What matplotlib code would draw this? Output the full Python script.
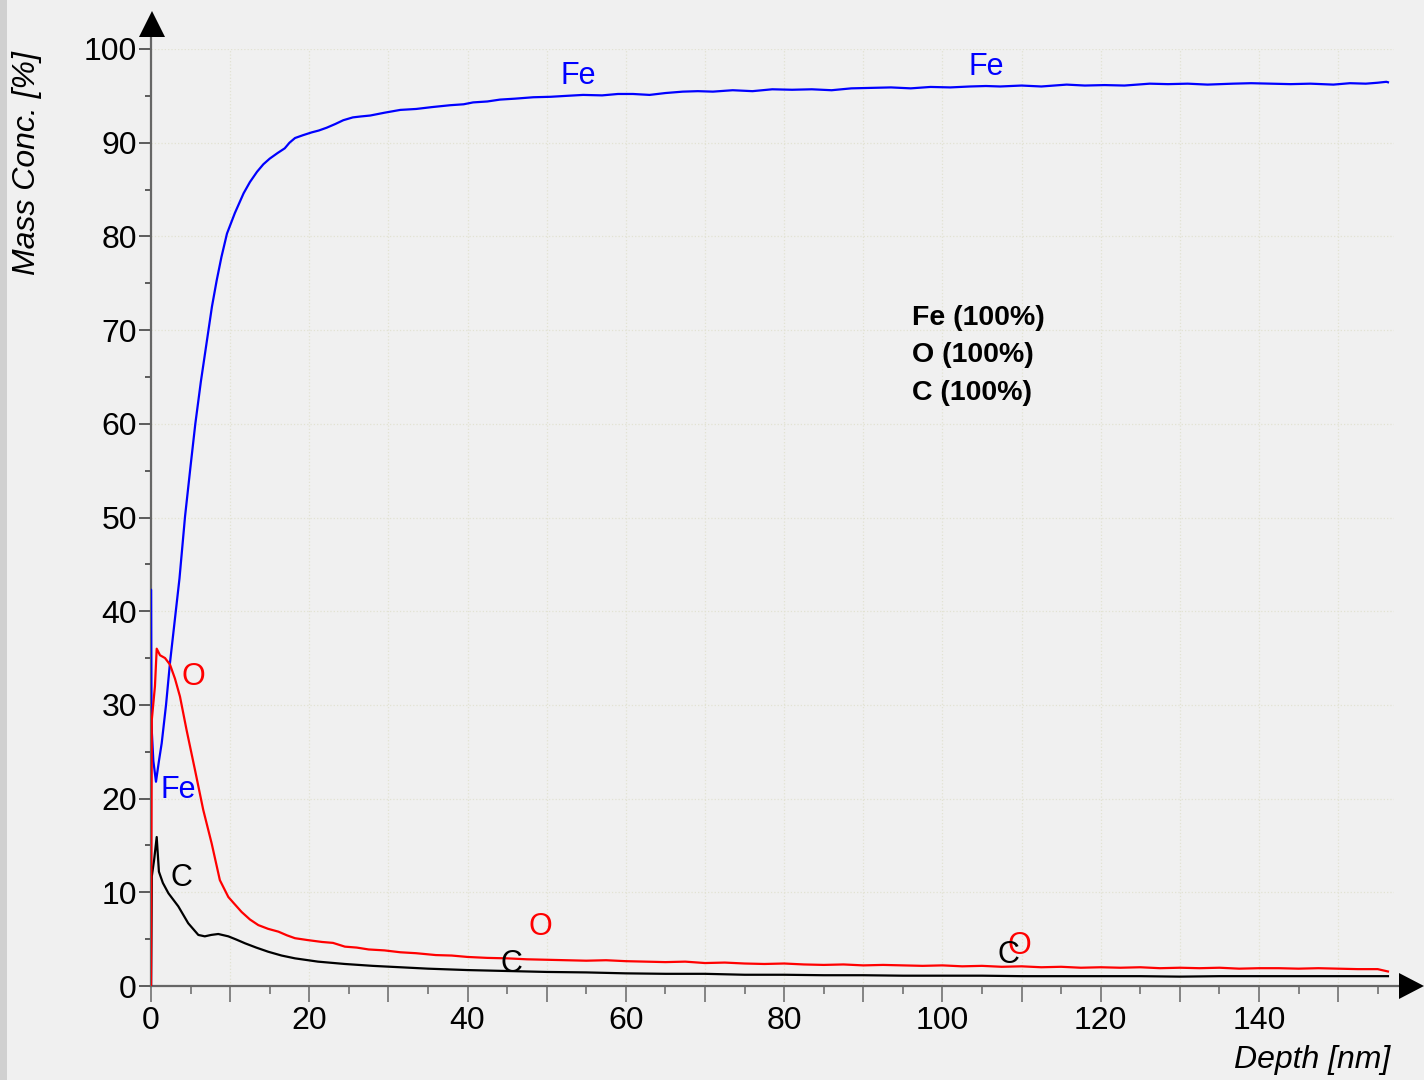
import matplotlib
matplotlib.use("Agg")
import matplotlib.pyplot as plt
from matplotlib.patches import Polygon, Rectangle
from matplotlib.ticker import MultipleLocator

# ------------------------------------------------
# Depth profile data (depth in nm, mass conc. in %)
# ------------------------------------------------
depth_fe = [0, 0, 0.05, 0.3, 0.63, 1.0, 1.35, 1.9, 2.4, 3.0, 3.6, 4.3, 5.0, 5.6, 6.3, 7.0,
            7.7, 8.3, 8.9, 9.6, 10.6, 11.7, 12.5, 13.4, 14.2, 15.0, 16.0, 16.9, 17.5, 18.2,
            19.2, 20.3, 21.2, 22.2, 23.3, 24.3, 25.5, 26.5, 27.7, 29.5, 31.5, 33.5, 35.5,
            37.8, 39.5, 40.7, 42.5, 44.1, 46, 48.3, 50.5, 52.5, 54.6, 57, 59, 60.9, 63, 65,
            67.2, 69.1, 71, 73.5, 76, 78.5, 81, 83.5, 86, 88.5, 91, 93.5, 96, 98.5, 101,
            103.5, 105.5, 107.3, 110, 112.5, 115.7, 118, 120.5, 123, 126.2, 128.5, 131,
            133.5, 136.7, 139, 141.5, 144, 146.5, 149.4, 151.5, 153.5, 155, 156.1, 156.3]
fe = [0, 42.3, 28.0, 24.0, 21.8, 24.0, 25.9, 30.0, 34.5, 39.0, 43.5, 50.1, 55.5, 60.0, 64.5,
      68.5, 72.5, 75.3, 77.8, 80.3, 82.5, 84.6, 85.8, 86.9, 87.7, 88.3, 88.9, 89.4, 90.0,
      90.5, 90.8, 91.1, 91.3, 91.6, 92.0, 92.4, 92.7, 92.8, 92.9, 93.2, 93.5, 93.6, 93.8,
      94.0, 94.1, 94.3, 94.4, 94.6, 94.7, 94.85, 94.9, 95.0, 95.1, 95.05, 95.2, 95.2, 95.1,
      95.3, 95.45, 95.5, 95.45, 95.6, 95.5, 95.7, 95.65, 95.7, 95.6, 95.8, 95.85, 95.9,
      95.8, 95.95, 95.9, 96.0, 96.05, 96.0, 96.1, 96.0, 96.2, 96.1, 96.15, 96.1, 96.3,
      96.25, 96.3, 96.2, 96.3, 96.35, 96.3, 96.25, 96.3, 96.2, 96.35, 96.3, 96.4, 96.5, 96.45]

depth_o = [0, 0.1, 0.5, 0.72, 1.14, 1.77, 2.4, 3.03, 3.66, 4.5, 5.56, 6.6, 7.67, 8.7, 9.77,
           10.5, 11.45, 12.5, 13.56, 14.8, 16.1, 17.2, 18.2, 19.8, 21.6, 23, 24.5, 26, 27.5,
           29.5, 31.5, 33.5, 36, 38, 40, 42.5, 45, 47.5, 50, 52.5, 55, 57.5, 60, 62.5, 65,
           67.5, 70, 72.5, 75, 77.5, 80, 82.5, 85, 87.5, 90, 92.5, 95, 97.5, 100, 102.5, 105,
           107.5, 110, 112.5, 115, 117.5, 120, 122.5, 125, 127.5, 130, 132.5, 135, 137.5, 140,
           142.5, 145, 147.5, 150, 152.5, 155, 156.3]
o = [0, 28.4, 32.0, 36.0, 35.3, 35.0, 34.3, 32.8, 30.9, 27.3, 23.05, 18.8, 15.2, 11.3, 9.5,
     8.8, 7.9, 7.1, 6.5, 6.1, 5.8, 5.4, 5.1, 4.9, 4.7, 4.6, 4.2, 4.1, 3.9, 3.8, 3.6, 3.5, 3.3,
     3.25, 3.1, 3.0, 2.95, 2.85, 2.8, 2.75, 2.7, 2.75, 2.65, 2.6, 2.55, 2.6, 2.45, 2.5, 2.4,
     2.35, 2.4, 2.3, 2.25, 2.3, 2.2, 2.25, 2.2, 2.15, 2.2, 2.1, 2.15, 2.05, 2.1, 2.0, 2.05,
     1.95, 2.0, 1.95, 2.0, 1.9, 1.95, 1.9, 1.95, 1.85, 1.9, 1.9, 1.85, 1.9, 1.85, 1.8, 1.8, 1.55]

depth_c = [0, 0.1, 0.4, 0.72, 1.0, 1.5, 2.2, 3.45, 4.7, 5.98, 6.8, 7.6, 8.5, 9.77, 10.8, 11.9,
           13.3, 14.8, 16.5, 18.2, 21.1, 24.5, 28, 31.5, 35, 40, 45, 50, 55, 60, 65, 70, 75,
           80, 85, 90, 95, 100, 105, 110, 115, 120, 125, 130, 135, 140, 145, 150, 155, 156.3]
c = [0, 11.7, 13.5, 15.9, 12.2, 11.0, 9.9, 8.5, 6.7, 5.45, 5.3, 5.45, 5.55, 5.3, 4.95, 4.55,
     4.1, 3.66, 3.25, 2.95, 2.6, 2.35, 2.15, 2.0, 1.85, 1.7, 1.6, 1.5, 1.45, 1.35, 1.3, 1.3,
     1.2, 1.2, 1.15, 1.15, 1.1, 1.1, 1.1, 1.05, 1.05, 1.05, 1.05, 1.0, 1.05, 1.05, 1.05, 1.05,
     1.05, 1.05]

# curve labels: (text, depth, conc, colour)
curve_labels = [("Fe", 54.0, 97.1, "#0000ff"), ("Fe", 105.5, 98.1, "#0000ff"),
                ("Fe", 3.4, 20.9, "#0000ff"),
                ("O", 5.3, 33.0, "#ff0000"), ("O", 49.2, 6.3, "#ff0000"),
                ("O", 109.7, 4.3, "#ff0000"),
                ("C", 3.9, 11.5, "black"), ("C", 45.6, 2.35, "black"),
                ("C", 108.3, 3.3, "black")]
scale_lines = ["Fe (100%)", "O (100%)", "C (100%)"]

plt.rcParams['font.family'] = ['Liberation Sans', 'DejaVu Sans']
bg = "#f0f0f0"
W, H = 1424, 1080

fig = plt.figure(figsize=(W / 100, H / 100), dpi=100, facecolor=bg)
ax = fig.add_axes([151 / W, 94 / H, 1242.5 / W, 937 / H], facecolor=bg)

# faint strip on the left border
fig.patches.append(Rectangle((0, 0), 7 / W, 1, transform=fig.transFigure,
                             facecolor="#c9c9c9", edgecolor="none", alpha=0.8))

ax.plot(depth_fe, fe, color="#0000ff", lw=1.6, zorder=3)
ax.plot(depth_c, c, color="black", lw=1.6, zorder=3)
ax.plot(depth_o, o, color="#ff0000", lw=1.6, zorder=4)

for txt, x, y, col in curve_labels:
    ax.text(x, y, txt, color=col, fontsize=22, ha="center", va="center", zorder=5)

for i, line in enumerate(scale_lines):
    ax.text(96.2, 71.3 - 4.0 * i, line, fontsize=20.5, fontweight="bold",
            ha="left", va="center")

ax.set_xlim(0, 157)
ax.set_ylim(0, 100)

ax.xaxis.set_major_locator(MultipleLocator(10))
ax.xaxis.set_minor_locator(MultipleLocator(5))
ax.yaxis.set_major_locator(MultipleLocator(10))
ax.yaxis.set_minor_locator(MultipleLocator(5))
ax.set_xticklabels([str(int(v)) if int(v) % 20 == 0 else "" for v in ax.get_xticks()])

ax.grid(True, which="major", color="#e2e2d2", lw=0.9, ls=":")
ax.set_axisbelow(True)

for s in ax.spines.values():
    s.set_visible(False)

ax.tick_params(axis="y", which="major", length=8.6, width=1.1, color="#333333",
               labelsize=23, pad=1.5)
ax.tick_params(axis="y", which="minor", length=4.3, width=1.1, color="#333333")
ax.tick_params(axis="x", which="major", length=11.5, width=1.1, color="#666666",
               labelsize=23, pad=3)
ax.tick_params(axis="x", which="minor", length=5.8, width=1.1, color="#666666")

# axis lines with arrow heads
ax.plot([0, 0], [0, (986 - 36) / 937], transform=ax.transAxes, color="#666666",
        lw=1.6, clip_on=False, zorder=2)
ax.plot([0, (1402 - 151) / 1242.5], [0, 0], transform=ax.transAxes, color="#666666",
        lw=1.6, clip_on=False, zorder=2)


def px(x, y):
    return (x / W, 1 - y / H)


fig.patches.append(Polygon([px(139, 37), px(165, 37), px(152, 11)], closed=True,
                           transform=fig.transFigure, facecolor="black", edgecolor="none"))
fig.patches.append(Polygon([px(1399, 973), px(1399, 999), px(1424, 986)], closed=True,
                           transform=fig.transFigure, facecolor="black", edgecolor="none"))

fig.text(27 / W, 1 - 163 / H, "Mass Conc. [%]", rotation=90, fontsize=23,
         style="italic", ha="center", va="center")
fig.text(1390 / W, 1 - 1060 / H, "Depth [nm]", fontsize=23, style="italic",
         ha="right", va="center")

fig.savefig("out.png", dpi=100, facecolor=bg)
